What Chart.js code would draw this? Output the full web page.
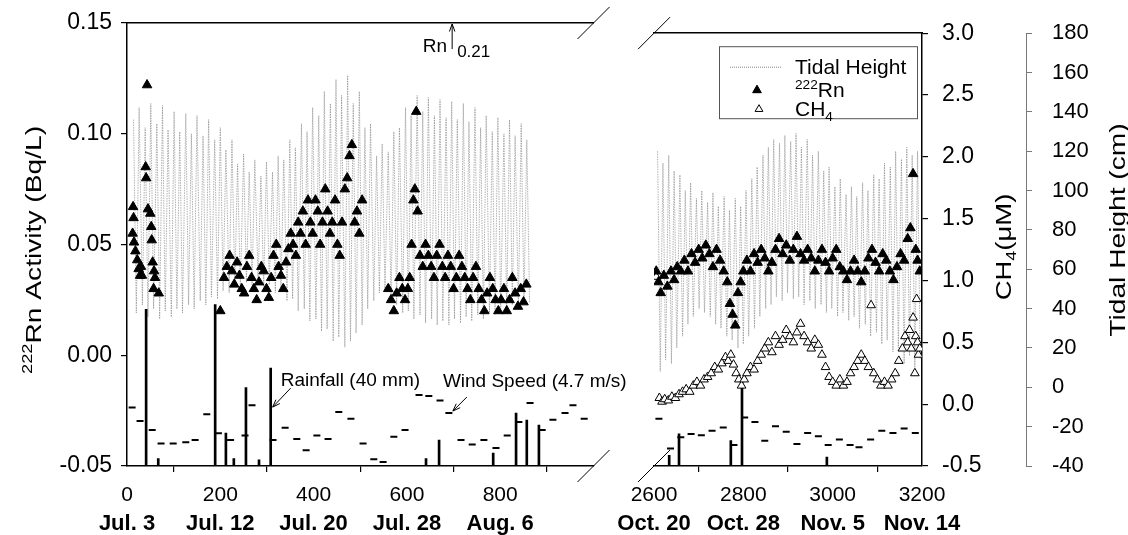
<!DOCTYPE html>
<html>
<head>
<meta charset="utf-8">
<script src="https://cdn.jsdelivr.net/npm/chart.js@4/dist/chart.umd.min.js"></script>
<style>
  body { margin: 0; background: #fff; width: 1128px; height: 535px; overflow: hidden; position: relative; }
  #left { position: absolute; left: 0; top: 0; }
  #right { position: absolute; left: 600px; top: 0; }
</style>
</head>
<body>
<canvas id="left" width="660" height="535"></canvas>
<canvas id="right" width="528" height="535"></canvas>
<script>
// axis ticks and labels
const leftTicks = [0, 200, 400, 600, 800];
const leftDates = ['Jul. 3', 'Jul. 12', 'Jul. 20', 'Jul. 28', 'Aug. 6'];
const rightTicks = [2600, 2800, 3000, 3200];
const rightDates = ['Oct. 20', 'Oct. 28', 'Nov. 5', 'Nov. 14'];
const rnTicks = [-0.05, 0, 0.05, 0.10, 0.15];
const ch4Ticks = [-0.5, 0, 0.5, 1.0, 1.5, 2.0, 2.5, 3.0];
const tideTicks = [-40, -20, 0, 20, 40, 60, 80, 100, 120, 140, 160, 180];

// 222Rn (Bq/L) by hour
const rnLeft = [[13,0.067],[14,0.062],[12,0.055],[15,0.051],[18,0.047],[22,0.043],[25,0.039],[28,0.036],[32,0.036],[30,0.040],
  [40,0.085],[41,0.080],[43,0.122],[45,0.066],[50,0.064],[52,0.058],[53,0.052],[55,0.042],[58,0.038],[60,0.035],[57,0.030],[68,0.028],
  [200,0.020],[208,0.035],[214,0.040],[220,0.045],[225,0.038],[230,0.032],[236,0.042],[241,0.036],[246,0.030],[251,0.028],
  [257,0.040],[262,0.045],[267,0.035],[272,0.030],[278,0.025],[283,0.033],[288,0.040],[293,0.038],[299,0.030],[304,0.026],
  [309,0.035],[314,0.045],[320,0.050],[325,0.040],[330,0.036],[335,0.030],[341,0.042],[346,0.048],[351,0.055],[356,0.050],
  [362,0.045],[367,0.060],[372,0.055],[377,0.065],[383,0.050],[388,0.070],[393,0.060],[398,0.055],[404,0.070],[409,0.065],
  [414,0.050],[419,0.060],[425,0.075],[430,0.065],[435,0.055],[440,0.060],[446,0.070],[451,0.050],[456,0.045],[461,0.060],
  [467,0.075],[472,0.080],[477,0.090],[482,0.095],[488,0.060],[493,0.065],[498,0.055],[504,0.070],
  [560,0.030],[566,0.025],[572,0.020],[578,0.028],[584,0.035],[590,0.030],[596,0.025],[602,0.030],[606,0.035],[610,0.050],
  [614,0.070],[617,0.075],[620,0.110],[623,0.065],[628,0.045],[634,0.040],[640,0.050],[646,0.045],[652,0.040],[658,0.035],
  [664,0.045],[670,0.050],[676,0.040],[682,0.035],[688,0.045],[694,0.040],[700,0.030],[706,0.035],[712,0.045],[718,0.040],
  [724,0.035],[730,0.030],[736,0.025],[742,0.035],[748,0.040],[754,0.030],[760,0.025],[766,0.020],[772,0.028],[778,0.035],
  [784,0.030],[790,0.025],[796,0.020],[802,0.025],[808,0.030],[814,0.020],[820,0.025],[826,0.035],[832,0.028],[838,0.022],
  [844,0.030],[850,0.024],[856,0.032]];
const rnRight = [[2605,0.040],[2610,0.035],[2615,0.030],[2622,0.038],[2630,0.033],[2638,0.040],[2645,0.036],[2652,0.042],
  [2660,0.040],[2668,0.045],[2676,0.040],[2684,0.048],[2692,0.044],[2700,0.050],[2708,0.046],[2716,0.052],[2724,0.048],
  [2732,0.042],[2740,0.050],[2748,0.045],[2756,0.040],[2764,0.035],[2770,0.025],[2776,0.020],[2782,0.015],[2788,0.030],
  [2794,0.035],[2800,0.040],[2808,0.045],[2816,0.040],[2824,0.048],[2832,0.044],[2840,0.050],[2848,0.046],[2856,0.040],
  [2864,0.044],[2872,0.050],[2880,0.055],[2888,0.048],[2896,0.052],[2904,0.045],[2912,0.050],[2920,0.056],[2928,0.048],
  [2936,0.045],[2944,0.050],[2952,0.046],[2960,0.040],[2968,0.045],[2976,0.050],[2984,0.044],[2992,0.040],[3000,0.046],
  [3008,0.050],[3016,0.042],[3024,0.040],[3032,0.036],[3040,0.040],[3048,0.045],[3056,0.040],[3064,0.035],[3072,0.040],
  [3080,0.046],[3088,0.050],[3096,0.044],[3104,0.040],[3112,0.048],[3120,0.045],[3128,0.040],[3136,0.036],[3144,0.042],
  [3152,0.048],[3160,0.045],[3168,0.055],[3174,0.060],[3180,0.085],[3186,0.050],[3190,0.045],[3195,0.040]];
const rnOffscale = [[697, 0.21]];

// CH4 (uM) by hour
const ch4Right = [[2605,1.03],[2612,0.05],[2618,0.02],[2624,0.04],[2632,0.03],[2640,0.06],[2648,0.05],[2656,0.08],
  [2664,0.10],[2672,0.12],[2680,0.10],[2688,0.15],[2696,0.18],[2704,0.15],[2712,0.20],[2720,0.22],[2728,0.25],[2736,0.30],
  [2744,0.28],[2752,0.33],[2760,0.38],[2766,0.35],[2772,0.40],[2778,0.32],[2784,0.25],[2790,0.20],[2796,0.15],[2802,0.20],
  [2808,0.25],[2816,0.30],[2824,0.28],[2832,0.35],[2840,0.40],[2848,0.45],[2856,0.50],[2864,0.42],[2872,0.55],[2880,0.48],
  [2888,0.52],[2896,0.60],[2904,0.55],[2912,0.50],[2920,0.58],[2928,0.65],[2936,0.55],[2944,0.50],[2952,0.45],[2960,0.52],
  [2968,0.48],[2976,0.40],[2984,0.30],[2992,0.22],[3000,0.18],[3008,0.15],[3016,0.20],[3024,0.15],[3032,0.18],[3040,0.25],
  [3048,0.30],[3056,0.35],[3064,0.40],[3072,0.35],[3080,0.30],[3086,0.80],[3092,0.25],[3100,0.20],[3108,0.15],[3116,0.18],
  [3124,0.15],[3132,0.20],[3140,0.25],[3148,0.35],[3156,0.45],[3162,0.55],[3168,0.50],[3172,0.60],[3176,0.45],[3180,0.70],
  [3184,0.25],[3186,0.55],[3188,0.85],[3190,0.50],[3192,0.40],[3195,0.45]];

// tidal height (cm): high and low waters
const tideHighL = [[14,132],[26,138],[39,128],[51,140],[64,130],[76,139],[88,127],[101,136],[113,126],[126,135],[138,125],
  [150,134],[163,124],[175,132],[188,122],[200,128],[212,117],[225,122],[237,110],[250,115],[262,106],[274,112],[287,104],
  [299,111],[312,106],[324,114],[336,112],[349,122],[361,118],[374,130],[386,126],[398,138],[411,134],[423,146],[436,140],
  [448,152],[460,144],[473,154],[485,140],[498,146],[510,128],[522,130],[535,114],[547,120],[560,116],[572,126],[584,128],
  [597,138],[609,134],[622,144],[634,136],[646,143],[659,134],[671,142],[684,133],[696,141],[708,132],[721,140],[733,131],
  [746,138],[758,128],[770,134],[783,126],[795,133],[808,125],[820,132],[832,124],[845,130],[857,122]];
const tideLowL = [[20,36],[33,40],[45,34],[57,38],[70,33],[82,37],[95,34],[107,38],[119,36],[132,40],[144,38],[157,42],
  [169,40],[181,44],[194,43],[206,47],[219,46],[231,49],[243,48],[256,51],[268,50],[281,52],[293,49],[305,50],[318,46],
  [330,47],[343,42],[355,43],[367,37],[380,38],[392,32],[405,33],[417,27],[429,28],[442,22],[454,24],[467,19],[479,22],
  [491,26],[504,30],[516,38],[529,42],[541,46],[553,47],[566,42],[578,40],[591,36],[603,37],[615,33],[628,35],[640,31],
  [653,33],[665,30],[677,32],[690,30],[702,33],[715,31],[727,34],[739,32],[752,35],[764,33],[777,36],[789,35],[801,38],
  [814,37],[826,40],[839,39],[851,42],[863,41]];
const tideHighR = [[2608,120],[2620,114],[2633,118],[2645,110],[2658,108],[2670,100],[2682,104],[2695,96],[2707,100],
  [2720,94],[2732,99],[2744,92],[2757,97],[2769,90],[2782,96],[2794,92],[2806,100],[2819,106],[2831,112],[2844,118],
  [2856,122],[2868,126],[2881,124],[2893,128],[2906,125],[2918,129],[2930,122],[2943,126],[2955,118],[2968,120],[2980,110],
  [2992,112],[3005,102],[3017,106],[3030,98],[3042,102],[3054,97],[3067,104],[3079,100],[3092,108],[3104,106],[3116,114],
  [3129,112],[3141,120],[3154,116],[3166,122],[3178,118],[3190,120]];
const tideLowR = [[2614,8],[2626,14],[2639,12],[2651,20],[2664,26],[2676,32],[2688,36],[2701,40],[2713,38],[2726,36],
  [2738,32],[2750,30],[2763,26],[2775,24],[2788,20],[2800,22],[2812,26],[2825,30],[2837,36],[2850,40],[2862,42],[2874,46],
  [2887,44],[2899,48],[2912,45],[2924,46],[2936,42],[2949,44],[2961,40],[2974,42],[2986,38],[2998,40],[3011,36],[3023,38],
  [3036,34],[3048,36],[3060,30],[3073,32],[3085,26],[3098,28],[3110,22],[3122,24],[3135,18],[3147,20],[3160,12],[3172,16],
  [3184,10],[3196,14]];

// rainfall (mm) and wind speed (m/s)
const rainLeft = [[41,64],[67,3],[189,66],[212,13.5],[229,3],[255,32],[283,2.5],[308,40],[641,3],[669,10.6],[785,5.3],
  [834,21.6],[857,18.8],[883,16.7]];
const rainRight = [[2634,4.5],[2656,13.5],[2772,10.6],[2797,36],[2987,3.7]];
const windLeft = [[11,5.2],[28,4.0],[54,3.2],[73,2.0],[99,2.0],[126,2.1],[146,2.3],[171,4.6],[196,2.9],[222,2.3],[253,2.7],
  [268,5.4],[313,2.3],[339,3.4],[364,2.4],[384,1.4],[407,2.7],[431,2.4],[454,4.8],[480,4.2],[506,2.0],[529,0.6],[549,0.35],
  [572,2.6],[596,3.2],[626,6.3],[647,6.2],[671,5.8],[690,4.7],[716,2.3],[740,1.9],[765,2.3],[791,1.6],[815,2.7],[840,3.9],
  [864,5.6],[890,3.2],[913,4.1],[939,4.7],[956,5.4],[980,4.2]];
const windRight = [[2611,4.3],[2637,1.6],[2660,2.6],[2683,2.9],[2706,2.8],[2730,3.2],[2755,3.5],[2779,1.9],[2803,4.4],
  [2826,4.0],[2848,2.3],[2872,3.6],[2896,3.1],[2920,2.0],[2944,3.0],[2968,2.7],[2990,1.9],[3015,2.4],[3039,1.9],[3059,1.7],
  [3085,2.4],[3110,3.2],[3135,3.0],[3160,3.4],[3185,3.0]];

const FONT = '"Liberation Sans", Arial, sans-serif';
Chart.defaults.font.family = FONT;
Chart.defaults.color = '#000';

const pts = arr => arr.map(([x, y]) => ({x, y}));
const tide = (hi, lo) => pts(hi.concat(lo).sort((a, b) => a[0] - b[0]));

// text with superscript (1) / subscript (-1) parts
function richText(ctx, segs, x, y, size, align) {
  const fontOf = k => (k ? size * 0.65 : size) + 'px ' + FONT;
  const widths = segs.map(([t, k]) => { ctx.font = fontOf(k); return ctx.measureText(t).width; });
  const total = widths.reduce((a, b) => a + b, 0);
  let cx = align === 'center' ? x - total / 2 : align === 'right' ? x - total : x;
  ctx.textAlign = 'left';
  ctx.textBaseline = 'alphabetic';
  segs.forEach(([t, k], i) => {
    ctx.font = fontOf(k);
    ctx.fillText(t, cx, y + (k === 1 ? -size * 0.4 : k === -1 ? size * 0.22 : 0));
    cx += widths[i];
  });
}

function vTitle(ctx, segs, cx, cy, size, stretch) {
  ctx.save();
  ctx.fillStyle = '#000';
  ctx.translate(cx, cy);
  ctx.rotate(-Math.PI / 2);
  ctx.scale(stretch, 1);
  richText(ctx, segs, 0, size * 0.36, size, 'center');
  ctx.restore();
}

function arrow(ctx, x1, y1, x2, y2) {
  const a = Math.atan2(y2 - y1, x2 - x1);
  ctx.beginPath();
  ctx.moveTo(x1, y1); ctx.lineTo(x2, y2);
  ctx.moveTo(x2 - 8 * Math.cos(a - 0.35), y2 - 8 * Math.sin(a - 0.35));
  ctx.lineTo(x2, y2);
  ctx.lineTo(x2 - 8 * Math.cos(a + 0.35), y2 - 8 * Math.sin(a + 0.35));
  ctx.stroke();
}

const breakMarks = side => ({
  id: 'breakMarks',
  afterDraw(chart) {
    const {ctx, chartArea: a} = chart;
    const x = side === 'right' ? a.right : a.left;
    ctx.save();
    ctx.strokeStyle = '#000';
    ctx.lineWidth = 1;
    [a.top, a.bottom].forEach(y => {
      ctx.beginPath(); ctx.moveTo(x - 16, y + 16); ctx.lineTo(x + 16, y - 16); ctx.stroke();
    });
    ctx.restore();
  }
});

const hidden = (min, max) => ({ display: false, min, max });

function xAxes(min, max, ticks, dates) {
  return {
    x: {
      type: 'linear', position: 'bottom', min, max, weight: 0, offset: false,
      afterBuildTicks: s => { s.ticks = ticks.map(v => ({value: v})); },
      ticks: { font: {size: 21}, color: '#000', padding: 11, maxRotation: 0, callback: v => String(v) },
      grid: { drawOnChartArea: false, tickLength: 6, color: '#000', lineWidth: 1.2 },
      border: { color: '#000', width: 1.5 },
      afterFit: s => { s.height = 42; }
    },
    xDate: {
      type: 'linear', position: 'bottom', min, max, weight: 1,
      afterBuildTicks: s => { s.ticks = ticks.map(v => ({value: v})); },
      ticks: { font: {size: 22, weight: 'bold'}, color: '#000', padding: 3, maxRotation: 0,
        callback: v => dates[ticks.indexOf(v)] },
      grid: { display: false, drawTicks: false, tickLength: 0 }, border: { display: false },
      afterFit: s => { s.height = 27; }
    },
    xTop: {
      type: 'linear', position: 'top', min, max,
      ticks: { display: false }, grid: { drawOnChartArea: false, drawTicks: false },
      border: { color: '#000', width: 1.5 },
      afterFit: s => { s.height = 0; }
    }
  };
}

const tideStyle = { type: 'line', yAxisID: 'yTide', borderColor: 'rgba(125,125,125,0.75)', borderWidth: 0.8,
  borderDash: [1.5, 1], pointRadius: 0, tension: 0, order: 10 };
const rainStyle = { type: 'bar', yAxisID: 'yRain', backgroundColor: '#000', barThickness: 2, grouped: false, order: 8 };
const windStyle = { yAxisID: 'yWind', pointStyle: 'line', pointRadius: 3.5, borderColor: '#000', borderWidth: 2, order: 6 };
const rnStyle = { yAxisID: 'y', pointStyle: 'triangle', pointRadius: 5.5, backgroundColor: '#000', borderColor: '#000',
  borderWidth: 1, order: 1 };

const base = {
  responsive: false, animation: false, devicePixelRatio: 1, events: [],
  plugins: { legend: { display: false }, tooltip: { enabled: false } }
};

// left panel: July - August
new Chart(document.getElementById('left'), {
  type: 'scatter',
  data: { datasets: [
    Object.assign({ data: tide(tideHighL, tideLowL) }, tideStyle),
    Object.assign({ data: pts(rainLeft) }, rainStyle),
    Object.assign({ data: pts(windLeft) }, windStyle),
    Object.assign({ data: pts(rnLeft) }, rnStyle)
  ]},
  options: Object.assign({}, base, {
    layout: { padding: { left: 0, top: 23, right: 66.5, bottom: 0 } },
    scales: Object.assign(xAxes(0, 1000, leftTicks, leftDates), {
      y: {
        position: 'left', min: -0.05, max: 0.15,
        afterBuildTicks: s => { s.ticks = rnTicks.map(v => ({value: v})); },
        ticks: { font: {size: 23}, color: '#000', padding: 9, callback: v => v.toFixed(2) },
        grid: { drawOnChartArea: false, tickLength: 6, color: '#000', lineWidth: 1.2 },
        border: { color: '#000', width: 1.5 },
        afterFit: s => { s.width = 127; }
      },
      yTide: hidden(-40, 180),
      yRain: hidden(0, 181),
      yWind: hidden(0, 39.3)
    })
  }),
  plugins: [breakMarks('right'), {
    id: 'leftNotes',
    afterDraw(chart) {
      const {ctx, chartArea: a, scales: s} = chart;
      ctx.save();
      ctx.fillStyle = '#000'; ctx.strokeStyle = '#000'; ctx.lineWidth = 1;
      vTitle(ctx, [['222', 1], ['Rn Activity (Bq/L)', 0]], a.left - 94, 250, 22, 1.28);
      // rainfall label
      const bx = s.x.getPixelForValue(308), by = s.yRain.getPixelForValue(40);
      richText(ctx, [['Rainfall (40 mm)', 0]], bx + 10, by + 18, 19, 'left');
      arrow(ctx, bx + 20, by + 20, bx + 2, by + 39);
      // wind speed label
      const wx = s.x.getPixelForValue(690), wy = s.yWind.getPixelForValue(4.7);
      richText(ctx, [['Wind Speed (4.7 m/s)', 0]], wx - 6, wy - 26, 19, 'left');
      arrow(ctx, wx + 18, wy - 16, wx + 4, wy - 2);
      // off-scale radon value
      rnOffscale.forEach(([h, v]) => {
        const x = s.x.getPixelForValue(h);
        arrow(ctx, x, a.top + 26, x, a.top + 1);
        richText(ctx, [['Rn', 0]], x - 5, a.top + 29, 19, 'right');
        richText(ctx, [[String(v), 0]], x + 5, a.top + 34, 17, 'left');
      });
      ctx.restore();
    }
  }]
});

// right panel: October - November
new Chart(document.getElementById('right'), {
  type: 'scatter',
  data: { datasets: [
    Object.assign({ data: tide(tideHighR, tideLowR) }, tideStyle),
    Object.assign({ data: pts(rainRight) }, rainStyle),
    Object.assign({ data: pts(windRight) }, windStyle),
    Object.assign({ data: pts(ch4Right) }, rnStyle, { yAxisID: 'yCH4', backgroundColor: '#fff', pointRadius: 5, order: 2 }),
    Object.assign({ data: pts(rnRight) }, rnStyle)
  ]},
  options: Object.assign({}, base, {
    layout: { padding: { left: 54, top: 23, right: 0, bottom: 0 } },
    scales: Object.assign(xAxes(2600, 3200, rightTicks, rightDates), {
      y: hidden(-0.05, 0.15),
      yRain: hidden(0, 181),
      yWind: hidden(0, 39.3),
      yCH4: {
        position: 'right', min: -0.5, max: 3.0, weight: 0,
        afterBuildTicks: s => { s.ticks = ch4Ticks.map(v => ({value: v})); },
        ticks: { font: {size: 23}, color: '#000', padding: 14, callback: v => v.toFixed(1) },
        grid: { drawOnChartArea: false, tickLength: 6, color: '#000', lineWidth: 1.2 },
        border: { color: '#000', width: 1.5 },
        afterFit: s => { s.width = 104; }
      },
      yTide: {
        position: 'right', min: -40, max: 180, weight: 1,
        afterBuildTicks: s => { s.ticks = tideTicks.map(v => ({value: v})); },
        ticks: { font: {size: 22}, color: '#000', padding: 20, callback: v => String(v) },
        grid: { drawOnChartArea: false, tickLength: 6, color: '#777', lineWidth: 1 },
        border: { color: '#777', width: 1 },
        afterFit: s => { s.width = 102; }
      }
    })
  }),
  plugins: [breakMarks('left'), {
    id: 'rightNotes',
    afterDraw(chart) {
      const {ctx, chartArea: a} = chart;
      ctx.save();
      ctx.fillStyle = '#000';
      vTitle(ctx, [['CH', 0], ['4', -1], ['(\u03bcM)', 0]], a.right + 81, 247, 22, 1.25);
      vTitle(ctx, [['Tidal Height (cm)', 0]], a.right + 195, 230, 22, 1.28);
      // legend box
      const lx = a.right - 203, ly = a.top + 13;
      ctx.fillStyle = '#fff';
      ctx.fillRect(lx, ly, 198, 72);
      ctx.strokeStyle = '#555'; ctx.lineWidth = 1;
      ctx.strokeRect(lx + 0.5, ly + 0.5, 198, 72);
      ctx.strokeStyle = 'rgba(120,120,120,0.9)';
      ctx.setLineDash([1, 1]);
      ctx.beginPath(); ctx.moveTo(lx + 11, ly + 21); ctx.lineTo(lx + 62, ly + 21); ctx.stroke();
      ctx.setLineDash([]);
      ctx.fillStyle = '#000'; ctx.strokeStyle = '#000';
      Chart.helpers.drawPoint(ctx, { pointStyle: 'triangle', radius: 5, borderWidth: 1 }, lx + 38, ly + 44);
      ctx.fill();
      ctx.fillStyle = '#fff';
      Chart.helpers.drawPoint(ctx, { pointStyle: 'triangle', radius: 4.5, borderWidth: 1 }, lx + 40, ly + 63);
      ctx.fillStyle = '#000';
      richText(ctx, [['Tidal Height', 0]], lx + 76, ly + 28, 21, 'left');
      richText(ctx, [['222', 1], ['Rn', 0]], lx + 76, ly + 51, 21, 'left');
      richText(ctx, [['CH', 0], ['4', -1]], lx + 76, ly + 70, 21, 'left');
      ctx.restore();
    }
  }]
});
</script>
</body>
</html>
